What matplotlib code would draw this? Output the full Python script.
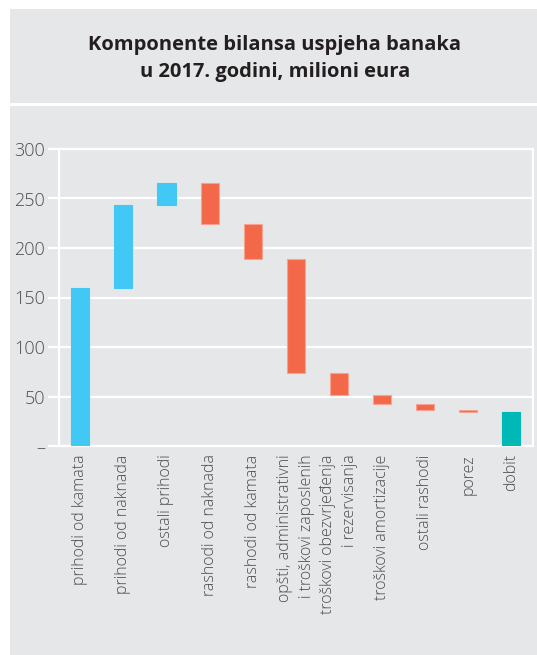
import numpy as np
import matplotlib.pyplot as plt
from matplotlib.patches import Rectangle

# Data (milioni eura)
categories = ['prihodi od kamata', 'prihodi od naknada', 'ostali prihodi',
              'rashodi od naknada', 'rashodi od kamata',
              'opšti, administrativni\ni troškovi zaposlenih',
              'troškovi obezvrjeđenja\ni rezervisanja',
              'troškovi amortizacije', 'ostali rashodi', 'porez', 'dobit']
changes = [160, 83, 23, -42, -35, -115, -22, -10, -6, -2]
profit = 34
yticks = [0, 50, 100, 150, 200, 250, 300]
ytick_labels = ['–', '50', '100', '150', '200', '250', '300']

blue = '#41C8F4'
red = '#F26849'
teal = '#00B9B6'
panel = '#E6E7E8'

plt.rcParams['font.family'] = ['Open Sans', 'DejaVu Sans']

W, H = 537, 655
fig = plt.figure(figsize=(W / 100, H / 100), dpi=100)
fig.patch.set_facecolor('white')

# gray panels (pixel coords from top)
def panel_rect(x0, y0, x1, y1):
    fig.patches.append(Rectangle((x0 / W, 1 - y1 / H), (x1 - x0) / W, (y1 - y0) / H,
                                 transform=fig.transFigure, facecolor=panel,
                                 edgecolor='none', zorder=-10))

panel_rect(10, 9, 537, 103)
panel_rect(10, 106, 537, 655)

fig.text(275 / W, 1 - 58.5 / H, 'Komponente bilansa uspjeha banaka\nu 2017. godini, milioni eura',
         ha='center', va='center', fontsize=14.5, fontweight='bold', color='#231F20',
         linespacing=1.45)

ax = fig.add_axes([58.7 / W, 209 / H, (533 - 58.7) / W, 297 / H])
ax.set_facecolor(panel)

# waterfall
cum = np.cumsum([0] + changes)
x = np.arange(len(categories))
bottoms = []
heights = []
colors = []
for i, c in enumerate(changes):
    if c >= 0:
        bottoms.append(cum[i])
        colors.append(blue)
    else:
        bottoms.append(cum[i] + c)
        colors.append(red)
    heights.append(abs(c))
bottoms.append(0)
heights.append(profit)
colors.append(teal)

for xi, b, h, col in zip(x, bottoms, heights, colors):
    ec = '#F6A491' if col == red else col
    ax.bar(xi, h, bottom=b, width=0.42, color=col, edgecolor=ec, linewidth=0.8, zorder=3)

ax.set_xlim(-0.5, len(categories) - 0.5)
ax.set_ylim(0, 300)
ax.set_yticks(yticks)
ax.set_yticklabels(ytick_labels)
ax.yaxis.grid(True, color='white', linewidth=1.6, zorder=1)
ax.set_axisbelow(True)
for s in ax.spines.values():
    s.set_color('white')
    s.set_linewidth(1.6)
ax.tick_params(axis='y', colors='white', length=8, width=1.6, labelcolor='#4D4D4F',
               labelsize=13, pad=2)
ax.set_xticks(x)
ax.set_xticklabels(categories, rotation=90, ha='center', va='top', multialignment='right',
                   fontsize=11.5, color='#4D4D4F', fontweight='light', linespacing=1.45)
ax.tick_params(axis='x', length=0, pad=6)
for lab in ax.get_yticklabels():
    lab.set_fontweight('light')

fig.savefig('out.png', dpi=100, facecolor='white')
